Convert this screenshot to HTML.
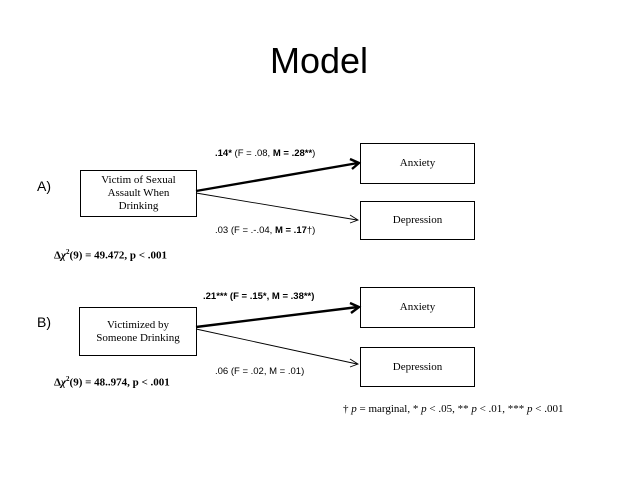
<!DOCTYPE html>
<html><head><style>
body{margin:0;background:#fff;}
.w{position:relative;width:638px;height:479px;overflow:hidden;font-family:"Liberation Sans",sans-serif;}
.t{position:absolute;white-space:nowrap;color:#000;}
.box{position:absolute;border:1px solid #000;box-sizing:border-box;display:flex;align-items:center;justify-content:center;text-align:center;font-family:"Liberation Serif",serif;font-size:11px;line-height:13px;}
.s{font-size:9.5px;}
.c{font-family:"Liberation Serif",serif;font-weight:bold;font-size:11px;}
</style></head><body><div class="w">
<div class="t" style="left:0;width:638px;text-align:center;top:40px;font-size:36px;">Model</div>
<svg width="638" height="479" style="position:absolute;left:0;top:0">
<g stroke="#000" fill="none">
<line x1="196" y1="191" x2="358" y2="163" stroke-width="2.4"/>
<polyline points="350,159 359,163 352,169" stroke-width="2.4"/>
<line x1="196" y1="193" x2="357" y2="220" stroke-width="0.9"/>
<polyline points="350,215 358,220 350,223" stroke-width="0.9"/>
<line x1="196" y1="327" x2="358" y2="307" stroke-width="2.4"/>
<polyline points="350,303 359,307 351,313" stroke-width="2.4"/>
<line x1="196" y1="329" x2="357" y2="364" stroke-width="0.9"/>
<polyline points="350,359 358,364 350,367" stroke-width="0.9"/>
</g></svg>
<div class="box" style="left:80px;top:170px;width:117px;height:47px;">Victim of Sexual<br>Assault When<br>Drinking</div>
<div class="box" style="left:360px;top:143px;width:115px;height:41px;">Anxiety</div>
<div class="box" style="left:360px;top:201px;width:115px;height:39px;">Depression</div>
<div class="box" style="left:79px;top:307px;width:118px;height:49px;">Victimized by<br>Someone Drinking</div>
<div class="box" style="left:360px;top:287px;width:115px;height:41px;">Anxiety</div>
<div class="box" style="left:360px;top:347px;width:115px;height:40px;">Depression</div>
<div class="t" style="left:37px;top:178px;font-size:14px;">A)</div>
<div class="t" style="left:37px;top:314px;font-size:14px;">B)</div>
<div class="t s" style="left:215px;top:148px;"><b>.14*</b> (F = .08, <b>M = .28**</b>)</div>
<div class="t s" style="left:215px;top:225px;">.03 (F = .-.04, <b>M = .17</b>†)</div>
<div class="t s" style="left:203px;top:291px;font-weight:bold;">.21*** (F = .15*, M = .38**)</div>
<div class="t s" style="left:215px;top:366px;">.06 (F = .02, M = .01)</div>
<div class="t c" style="left:54px;top:248px;">Δ<i>χ</i><sup style="font-size:7px">2</sup>(9) = 49.472, p &lt; .001</div>
<div class="t c" style="left:54px;top:375px;">Δ<i>χ</i><sup style="font-size:7px">2</sup>(9) = 48..974, p &lt; .001</div>
<div class="t" style="left:343px;top:403px;font-family:'Liberation Serif',serif;font-size:11px;">† <i>p</i> = marginal, * <i>p</i> &lt; .05, ** <i>p</i> &lt; .01, *** <i>p</i> &lt; .001</div>
</div></body></html>
